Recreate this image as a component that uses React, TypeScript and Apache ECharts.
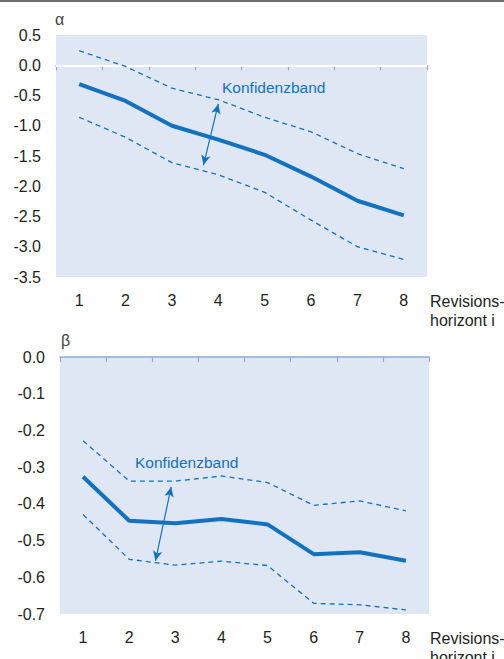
import React, { useEffect, useRef } from "react";
import * as echarts from "echarts";

const categories = ["1", "2", "3", "4", "5", "6", "7", "8"];

const alphaMain = [-0.31, -0.59, -1.0, -1.23, -1.48, -1.84, -2.24, -2.48];
const alphaUpper = [0.24, -0.02, -0.38, -0.57, -0.86, -1.1, -1.46, -1.71];
const alphaLower = [-0.86, -1.19, -1.61, -1.81, -2.1, -2.56, -3.0, -3.21];

const betaMain = [-0.326, -0.446, -0.453, -0.441, -0.456, -0.537, -0.532, -0.555];
const betaUpper = [-0.228, -0.338, -0.338, -0.324, -0.342, -0.404, -0.392, -0.419];
const betaLower = [-0.429, -0.551, -0.567, -0.556, -0.568, -0.671, -0.675, -0.689];

// confidence-band arrows (category index position, value): from -> to
const alphaArrow = [
  [2.68, -1.65],
  [3.0, -0.64],
];
const betaArrow = [
  [1.57, -0.555],
  [1.91, -0.354],
];

const BLUE = "#1272c0";
const BG = "#dfe7f4";
const AXIS = "#8eaadc";
const TEXT = "#231f20";
const FONT = "'Liberation Sans', Arial, sans-serif";

export default function App() {
  const ref = useRef<HTMLDivElement>(null);
  useEffect(() => {
    if (!ref.current) return;
    const chart = echarts.init(ref.current, undefined, { renderer: "svg" });

    const grids = [
      { left: 56, top: 35, width: 371, height: 242 },
      { left: 60, top: 357, width: 369, height: 257 },
    ];

    const catAxes = [0, 1].map((i) => ({
      type: "category",
      gridIndex: i,
      data: categories,
      boundaryGap: true,
      axisLine: { lineStyle: { color: AXIS, width: 1.5 } },
      axisTick: { show: true, length: 5, lineStyle: { color: AXIS, width: 1.2 } },
      axisLabel: { color: TEXT, fontSize: 16, fontFamily: FONT, margin: 15 },
      splitLine: { show: false },
    }));
    // hidden continuous axes aligned with category centres, for the arrows
    const valAxes = [0, 1].map((i) => ({
      type: "value",
      gridIndex: i,
      min: -0.5,
      max: categories.length - 0.5,
      show: false,
      splitLine: { show: false },
    }));

    const yLabel = {
      color: TEXT,
      fontSize: 16,
      fontFamily: FONT,
      margin: 15,
      formatter: (v: number) => v.toFixed(1),
    };
    const yAxis = [
      {
        type: "value",
        gridIndex: 0,
        min: -3.5,
        max: 0.5,
        interval: 0.5,
        axisLine: { show: false },
        axisTick: { show: false },
        splitLine: { show: false },
        axisLabel: yLabel,
      },
      {
        type: "value",
        gridIndex: 1,
        min: -0.7,
        max: 0,
        interval: 0.1,
        axisLine: { show: false },
        axisTick: { show: false },
        splitLine: { show: false },
        axisLabel: yLabel,
      },
    ];

    const dashed = (data: number[], idx: number) => ({
      type: "line",
      xAxisIndex: idx,
      yAxisIndex: idx,
      data,
      symbol: "none",
      lineStyle: { color: BLUE, width: 1.3, type: [5, 4] },
      z: 3,
    });

    const arrowSeries = (a: number[][], idx: number) => ({
      type: "line",
      xAxisIndex: idx + 2,
      yAxisIndex: idx,
      data: a,
      symbol: "none",
      silent: true,
      lineStyle: { width: 0, opacity: 0 },
      z: 5,
      markLine: {
        silent: true,
        symbol: ["arrow", "arrow"],
        symbolSize: [7, 10],
        label: { show: false },
        lineStyle: { color: BLUE, width: 1.2, type: "solid" },
        data: [[{ coord: a[0] }, { coord: a[1] }]],
      },
    });

    const option = {
      animation: false,
      grid: grids.map((g) => ({
        ...g,
        show: true,
        backgroundColor: BG,
        borderWidth: 0,
        containLabel: false,
      })),
      xAxis: [...catAxes, ...valAxes],
      yAxis,
      series: [
        {
          type: "line",
          xAxisIndex: 0,
          yAxisIndex: 0,
          data: alphaMain,
          symbol: "none",
          lineStyle: { color: BLUE, width: 4 },
          z: 4,
          markLine: {
            silent: true,
            symbol: ["none", "none"],
            label: { show: false },
            lineStyle: { color: "#ffffff", width: 2, type: "solid" },
            data: [{ yAxis: 0 }],
            z: 1,
          },
        },
        dashed(alphaUpper, 0),
        dashed(alphaLower, 0),
        arrowSeries(alphaArrow, 0),
        {
          type: "line",
          xAxisIndex: 1,
          yAxisIndex: 1,
          data: betaMain,
          symbol: "none",
          lineStyle: { color: BLUE, width: 4 },
          z: 4,
        },
        dashed(betaUpper, 1),
        dashed(betaLower, 1),
        arrowSeries(betaArrow, 1),
      ],
      graphic: [
        {
          type: "rect",
          left: 0,
          top: 0,
          shape: { width: 504, height: 2 },
          style: { fill: "#6e6e6e" },
        },
        {
          type: "text",
          x: 55,
          y: 11,
          style: { text: "α", font: `16px ${FONT}`, fill: "#444" },
        },
        {
          type: "text",
          x: 61,
          y: 332,
          style: { text: "β", font: `16px ${FONT}`, fill: "#444" },
        },
        {
          type: "text",
          x: 222,
          y: 79,
          style: { text: "Konfidenzband", font: `15.5px ${FONT}`, fill: BLUE },
        },
        {
          type: "text",
          x: 135,
          y: 454,
          style: { text: "Konfidenzband", font: `15.5px ${FONT}`, fill: BLUE },
        },
        {
          type: "text",
          x: 430,
          y: 292,
          style: {
            text: "Revisions-\nhorizont i",
            font: `16px ${FONT}`,
            lineHeight: 19,
            fill: TEXT,
          },
        },
        {
          type: "text",
          x: 430,
          y: 629,
          style: {
            text: "Revisions-\nhorizont i",
            font: `16px ${FONT}`,
            lineHeight: 19,
            fill: TEXT,
          },
        },
      ],
    };

    chart.setOption(option as any);
    return () => chart.dispose();
  }, []);

  return (
    <div
      ref={ref}
      style={{ position: "fixed", left: 0, top: 0, width: 504, height: 659, background: "#fff" }}
    />
  );
}
